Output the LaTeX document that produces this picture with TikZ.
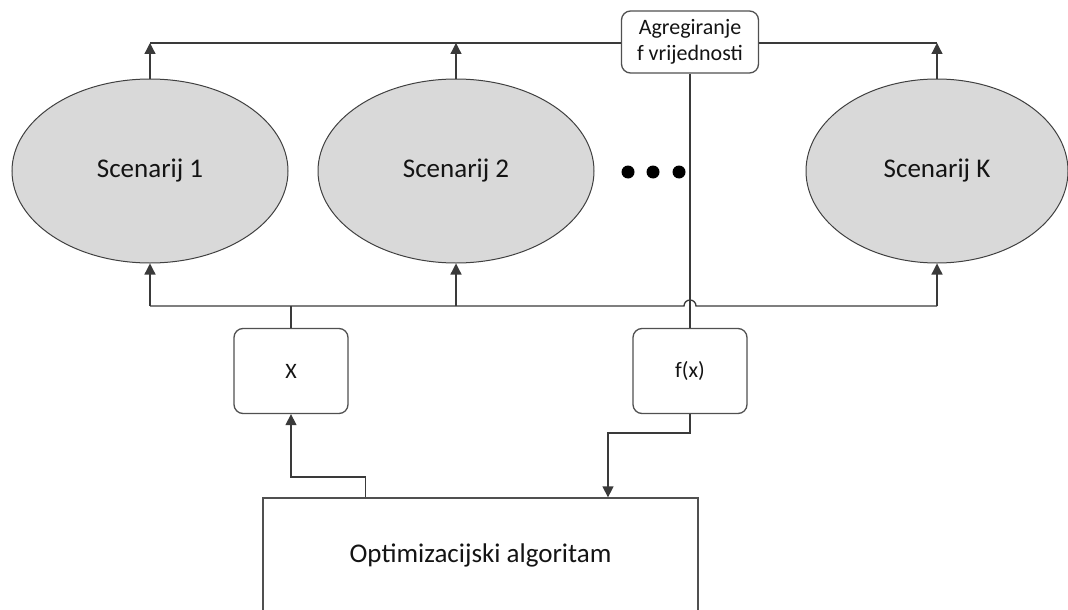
\documentclass[tikz,border=0pt]{standalone}
\usepackage{fontspec}
\setmainfont{Carlito}
\usetikzlibrary{shapes.geometric,arrows.meta,calc}
\definecolor{linec}{HTML}{3A3A3A}
\definecolor{ellc}{HTML}{404040}
\definecolor{ellfill}{HTML}{D9D9D9}
\definecolor{boxc}{HTML}{505050}
\definecolor{txtc}{HTML}{141414}
\begin{document}
\begin{tikzpicture}[x=1pt,y=1pt,
  line/.style={draw=linec, line width=1.3pt},
  arr/.style={line, -{Triangle[length=11pt,width=11pt]}},
  scen/.style={ellipse, draw=ellc, line width=1pt, fill=ellfill, inner sep=0pt,
    minimum width=276pt, minimum height=184pt, text=txtc, font=\fontsize{27}{32}\selectfont},
  rbox/.style={draw=boxc, line width=1.3pt, rounded corners=9pt, fill=white,
    minimum width=114pt, minimum height=85pt, inner sep=0pt, text=txtc,
    font=\fontsize{22}{26}\selectfont, align=center},
  sbox/.style={draw=boxc, line width=1.3pt, fill=white, inner sep=0pt, text=txtc,
    font=\fontsize{27}{32}\selectfont},
  dot/.style={circle, fill=black, inner sep=0pt, minimum size=13pt}]
\useasboundingbox (0,0) rectangle (1068,-610);
\clip (0,0) rectangle (1068,-610);

% scenarios
\node[scen] (e1) at (150,-171) {Scenarij 1};
\node[scen] (e2) at (456,-171) {Scenarij 2};
\node[scen, minimum width=262pt] (eK) at (937,-171) {Scenarij K};

% dots
\node[dot] (d1) at (628,-172) {};
\node[dot] (d2) at (653,-172) {};
\node[dot] (d3) at (679,-172) {};

% boxes
\node[rbox, minimum width=137pt, minimum height=62pt] (agg) at (690,-42) {Agregiranje\\f vrijednosti};
\node[rbox] (x) at (291,-371) {X};
\node[rbox] (fx) at (690,-371) {f(x)};
\node[sbox, minimum width=435pt, minimum height=114pt] (opt) at (480.5,-555) {Optimizacijski algoritam};

% coordinates
\coordinate (t1) at (150,-43);
\coordinate (t2) at (456,-43);
\coordinate (tK) at (937,-43);
\coordinate (b1) at (150,-306);
\coordinate (b2) at (456,-306);
\coordinate (bK) at (937,-306);
\coordinate (bx) at (291,-306);
\coordinate (hopL) at (684,-306);
\coordinate (xturn) at (291,-477);
\coordinate (fxturn) at (608,-433);

% top collecting line
\draw[line] (t1) -- (t1 -| agg.west);
\draw[line] (tK -| agg.east) -- (tK);
\draw[arr] (e1.north) -- (t1);
\draw[arr] (e2.north) -- (t2);
\draw[arr] (eK.north) -- (tK);

% bottom distribution line with hop
\draw[line] (b1) -- (hopL) arc[start angle=180, end angle=0, radius=6pt] -- (bK);
\draw[arr] (b1) -- (e1.south);
\draw[arr] (b2) -- (e2.south);
\draw[arr] (bK) -- (eK.south);
\draw[line] (x.north) -- (bx);

% aggregation to f(x)
\draw[line] (agg.south) -- (fx.north);

% optimisation loop
\draw[arr] ($(opt.north west)+(103,0)$) |- (xturn) -- (x.south);
\draw[arr] (fx.south) |- (fxturn) -- (fxturn |- opt.north);
\end{tikzpicture}
\end{document}
